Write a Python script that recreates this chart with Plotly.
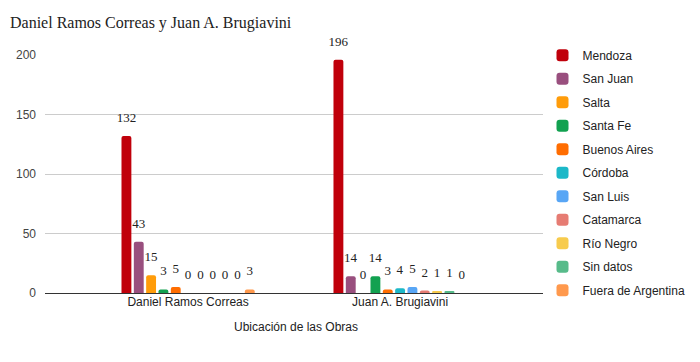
import plotly.graph_objects as go

categories = ["Daniel Ramos Correas", "Juan A. Brugiavini"]
series_names = ["Mendoza", "San Juan", "Salta", "Santa Fe", "Buenos Aires", "Córdoba",
                "San Luis", "Catamarca", "Río Negro", "Sin datos", "Fuera de Argentina"]
daniel_values = [132, 43, 15, 3, 5, 0, 0, 0, 0, 0, 3]
juan_values = [196, 14, 0, 14, 3, 4, 5, 2, 1, 1, 0]
colors = ["#C0000B", "#994F7E", "#FF9C0A", "#12A150", "#FF6D01", "#1CB8C8",
          "#58A6F5", "#E67C73", "#F7CB4D", "#57BB8A", "#FF994D"]
y_ticks = [0, 50, 100, 150, 200]

fig = go.Figure()
for i, name in enumerate(series_names):
    fig.add_trace(go.Bar(
        name=name,
        x=categories,
        y=[daniel_values[i], juan_values[i]],
        marker=dict(color=colors[i], line=dict(width=0), cornerradius=2),
        text=[str(daniel_values[i]), str(juan_values[i])],
        texttemplate="<span style='font-size:13px'>%{text}</span><br> ",
        textposition="outside",
        constraintext="none",
        cliponaxis=False,
        textfont=dict(family="Liberation Serif, Times New Roman, serif", size=7, color="#222222"),
        legendgroup=name,
    ))

fig.update_layout(
    width=700, height=362,
    barmode="group", bargap=0.36, bargroupgap=0.2,
    plot_bgcolor="white", paper_bgcolor="white",
    margin=dict(l=45, r=153, t=55, b=69, autoexpand=False),
    title=dict(text="Daniel Ramos Correas y Juan A. Brugiavini",
               x=10/700, xanchor="left", y=1-22/362, yanchor="middle",
               font=dict(family="Liberation Serif, Times New Roman, serif", size=16, color="#222222")),
    font=dict(family="Liberation Sans, Arial, sans-serif", size=12, color="#444444"),
    legend=dict(xref="container", x=542.5/700, xanchor="left", y=1.06, yanchor="top",
                font=dict(size=12, color="#222222"), tracegroupgap=4.5,
                itemwidth=30, maxheight=340),
    showlegend=True,
)
fig.update_xaxes(range=[-0.675, 1.693], showgrid=False, showline=False, ticks="",
                 title=dict(text="Ubicación de las Obras", font=dict(size=12, color="#222222"), standoff=14),
                 tickfont=dict(size=12, color="#222222"))
fig.update_yaxes(range=[0, 200], tickvals=y_ticks, showgrid=True, gridcolor="#CCCCCC",
                 zeroline=True, zerolinecolor="#333333", zerolinewidth=1,
                 tickfont=dict(size=12, color="#444444"), ticks="", ticklabelstandoff=8)

fig.write_html("out.html", config={"displayModeBar": False},
               post_script="document.body.style.margin='0px';")
